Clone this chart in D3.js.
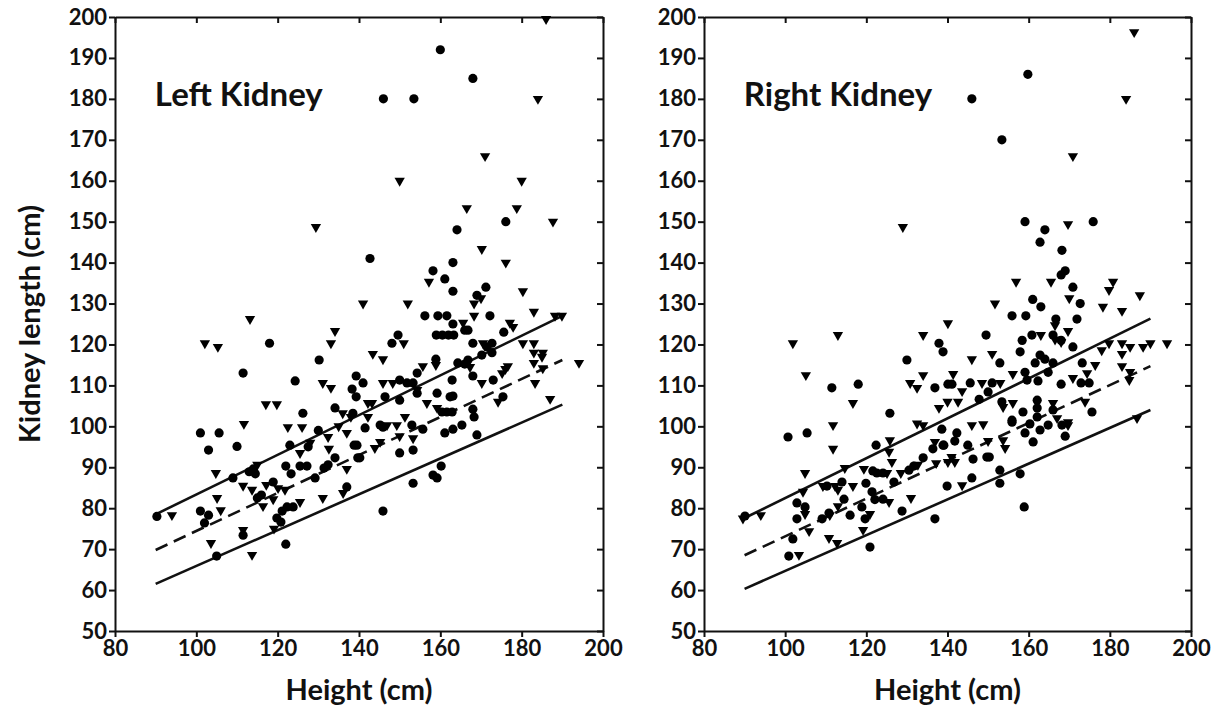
<!doctype html>
<html>
  <head>
    <script src="https://cdn.jsdelivr.net/npm/d3@7/dist/d3.min.js"></script>
    <style>
    body { margin: 0; background: #fff; }
    svg text { font-family: Lato, "Open Sans", sans-serif; font-weight: bold; fill: #111; }
    .axis path, .axis line { stroke: #111; stroke-width: 2; }
    .fit { fill: none; stroke: #111; stroke-width: 2.6; }
    </style>
  </head>
  <body>
    <svg width="1218" height="711"></svg>
    <script>
      var xTicks = [80, 100, 120, 140, 160, 180, 200];
      var yTicks = [50, 60, 70, 80, 90, 100, 110, 120, 130, 140, 150, 160, 170, 180, 190, 200];

      // regression line + band, [height, length] end points
      var leftFits = {
        upper: [[90, 78.5], [190, 127]],
        mean:  [[90, 69.8], [190, 116.2]],
        lower: [[90, 61.5], [190, 105.3]]
      };
      var rightFits = {
        upper: [[90, 77.6], [190, 126.3]],
        mean:  [[90, 68.5], [190, 114.7]],
        lower: [[90, 60.3], [190, 104]]
      };

      var leftCircles = [
        [90.3,78],[101,98.4],[105.6,98.4],[103,94.2],[110,95.1],[109,87.4],[113,88.9],[114,89.6],[114.5,88.4],
        [101,79.3],[103,78.3],[102,76.4],[105,68.3],[111.5,73.4],[115,82.5],[116,83.2],[118.9,86.4],[119.8,77.6],
        [120.8,76.6],[121.1,79.3],[122.3,80.3],[123.8,80.3],[122,71.2],[122,90.3],[123.3,88.4],[125.5,90.3],
        [127.2,90.3],[129.2,87.4],[131.4,89.8],[132.4,90.6],[134.1,92.3],[137,85.2],[138.8,95.4],[139.7,92.3],
        [123,95.4],[111.5,113],[118,120.3],[124.3,111.1],[126.2,103.2],[130.2,116.2],[134.1,104.5],[138.3,109.1],
        [139.3,112.3],[139.3,107.2],[141,110.6],[142.7,141],[146.4,107.2],[150,106.4],[150,111.3],[151.8,110.6],
        [153.3,110.6],[154.3,113],[154.3,108.1],[159.2,108.1],[163.1,107.4],[158.9,116.4],[160.4,103.5],
        [161.6,103.5],[162.9,103.5],[162.9,111.3],[164.3,115.5],[166,115.2],[166.8,116.2],[168,112.3],[168,104.2],
        [168.3,102.3],[173,111.3],[175.4,107.2],[170.2,117.4],[172.7,118],[168,120.3],[171.5,119.4],[172.7,120.3],
        [163.1,125],[166,123.5],[166.8,123.5],[175.6,123],[149.6,122.3],[148.1,120.3],[159,122.3],[160.5,122.3],
        [162,122.3],[163.3,122.3],[156.2,127],[159.4,127],[161.6,127],[172.2,127],[169,132],[163.1,133],[171.2,134],
        [161.1,136],[158.2,138],[163.1,140],[164.1,148],[176.1,150],[160,192],[168,185],[146,180],[153.5,180],
        [145.9,79.3],[153.3,86.1],[158.2,88.1],[159.2,87.4],[160.2,90.3],[150,93.5],[153.3,94.2],[140.2,92.3],
        [161.1,98.4],[163.1,99.3],[165.3,100.3],[169,97.9],[155.7,99.3],[153,100.3],[139.5,95.4],[141.5,99.6],
        [145.2,100.3],[145.9,99.8],[162.4,107.2],[138.5,103.2],[130,99],[127.5,95]
      ];
      var leftTriangles = [
        [94,78.3],[111.7,100.6],[104.8,88.6],[111.5,85.5],[115,90.6],[113.7,84.5],[105.1,82.5],[106,79.5],
        [103.6,71.5],[111.5,74.7],[113.7,68.6],[117.2,85.7],[116.4,80.5],[118.9,82.2],[120.1,84.9],[121.8,84.5],
        [119.1,75],[125.5,93.5],[125.5,81.5],[131.1,82.5],[132.4,97.4],[132.6,94.5],[137,89.6],[136.1,83.7],
        [137,98.4],[122.5,99.8],[126,99.8],[129.4,148.7],[113.2,126.2],[102.1,120.3],[105.3,119.4],[134.1,123.3],
        [133.1,120.3],[131.1,110.6],[133.1,109.4],[117.1,105.4],[119.8,105.4],[136,103.2],[138,102.3],[143.4,117.7],
        [145.9,116.4],[142.2,105.7],[143.2,105.7],[145.9,110.6],[148.3,110.6],[141,130],[152,130],[150,160],
        [156.7,105.7],[159.2,104.5],[157.2,135.3],[155.7,114.7],[158.9,115],[151,120.3],[165.6,125.3],[168.3,127],
        [168.3,130],[170,131.3],[170.2,143.3],[166.5,153.3],[178.8,153.3],[187.7,150],[180.3,133],[176.1,140],
        [183,128],[188.2,127],[189.9,127],[177.1,125.3],[177.9,124.3],[170.5,120.3],[180.3,120.3],[183,120.3],
        [183,118],[185.2,118],[185,117],[194.1,115.5],[183,115.5],[185.2,114.2],[183.3,110.6],[175.2,113],[176,114],
        [176.6,114.7],[170.2,110.6],[167.3,114.5],[174.2,106],[187,106.7],[153.3,97.1],[143.9,94.7],[145.2,96.2],
        [149.3,100.3],[150,97.6],[146.9,100.3],[142.2,102.3],[151.3,102.3],[154.3,108.9],[186,199.5],[184,180],
        [171,166],[180,160],[128,96],[135,100]
      ];

      var rightCircles = [
        [90.1,78.1],[100.7,97.4],[105.4,98.4],[102.9,81.3],[104.9,80.3],[102.9,77.4],[101.9,72.5],[100.9,68.3],
        [109.1,77.4],[110.3,85.4],[110.8,78.8],[114,86.4],[114.5,82.2],[116,78.3],[118.9,80.3],[119.7,77.4],
        [120.9,70.5],[119.9,86.1],[121.4,84],[122.1,82.1],[121.6,89.1],[122.6,88.6],[122.4,95.4],[124.1,88.6],
        [124.1,82.2],[126.8,86.4],[128.8,79.3],[130.5,89.3],[131.7,90.3],[134,92.3],[136.9,77.4],[136.4,94.5],
        [139.1,95.4],[139.9,85.4],[138.6,99.3],[111.5,109.4],[118,110.3],[125.8,103.2],[130,116.2],[137.9,120.3],
        [138.9,118.2],[136.9,109.4],[140.1,110.3],[145.6,110.6],[151,110.6],[150,108.4],[147.8,106.6],[153.4,106],
        [149.5,122.3],[152.9,115.5],[157.9,118.2],[161.6,115.5],[162.8,117.4],[164,116.4],[166,115.5],[173.2,115.5],
        [159.1,113.2],[159.6,111.3],[162.3,111.1],[164.8,113.2],[168,110.3],[172.9,110.6],[174.9,110.6],
        [162.1,106.4],[162.1,104.5],[162.1,102.3],[158.6,103.5],[155.9,101.5],[175.6,103.5],[158.4,121],
        [160.8,122.3],[166,122.3],[168,121],[170.9,119.4],[155.9,127],[159.3,127],[166.7,126.2],[171.9,126.2],
        [161,131],[163,129.2],[172.7,130],[170.9,134],[169,138],[168,137],[168.2,143],[162.8,145],[164,148],
        [159.1,150],[175.9,150],[153.4,170],[146,180],[159.8,186],[158.9,80.3],[157.9,88.4],[152.9,89.3],
        [152.9,86.1],[146,87.4],[146.3,92],[149.7,92.5],[150.3,92.5],[138.9,95.4],[141.8,96.4],[142.3,98.4],
        [145,95.4],[159.1,98.4],[161.1,96.2],[160.3,100.6],[162.8,99.1],[164.8,100.3],[168.2,100.3],[169,97.6],
        [155.9,101],[166,104],[141.1,110.3]
      ];
      var rightTriangles = [
        [89.6,77.5],[94,78.3],[104.9,88.6],[111.8,100.3],[111.8,94.5],[104.9,78.6],[104.4,84],[103.4,68.6],
        [105.9,74.4],[110.8,72.7],[112.8,71.5],[109.3,85.4],[112.3,85.4],[113,84.5],[111,78.3],[114.7,89.8],
        [113,80.5],[116.7,85.4],[119.2,74.7],[120.9,78.6],[119.4,89.6],[125.1,88.6],[125.6,81.5],[125.6,93.8],
        [125.8,96.6],[126.3,91.3],[128.5,88.6],[131,82.5],[132.7,90.6],[137.2,91],[136.9,96.2],[132.5,100.7],
        [134,100.3],[129,148.7],[101.9,120.3],[113,122.3],[134,122.3],[140.1,125.2],[105.1,112.5],[130.8,110.6],
        [132.5,109.4],[134,112.5],[116.7,105.7],[137.9,104.5],[140,106],[142.6,106],[141.4,112.8],[143.6,108.6],
        [148.5,110.6],[153,110.6],[146,116.4],[151,117.7],[156.1,112.8],[153.7,104.7],[156.1,105.7],[166,105.7],
        [173.9,106],[170.9,111.8],[174.4,113],[176.4,115],[183,114.7],[185,113.3],[184.8,111.3],[183,117.7],
        [178,118.6],[179.8,120.3],[183,120.3],[185,119.4],[188.2,119.4],[190,120.3],[194.1,120.3],[166.5,124.7],
        [169.7,123.3],[163,122.3],[166.5,121.2],[168,120.6],[178.3,129.2],[183,128.2],[170,131.3],[151.7,130],
        [156.9,135.3],[165.5,135.3],[180.8,135.3],[179.8,133.3],[187.4,132],[169.7,149.4],[170.9,166],[184,180],
        [186,196.3],[186.7,102],[167,102],[169.7,101],[143.6,85.6],[140.1,91.3],[141.8,91.3],[141,92.5],
        [153.7,96.6],[154.2,94.7],[150,96.4],[169.7,100.3],[148.8,100.5],[146,100.3]
      ];

      var panels = [
        { title: "Left Kidney", left: 115, right: 603, circles: leftCircles, triangles: leftTriangles, fits: leftFits, yTitle: true },
        { title: "Right Kidney", left: 704, right: 1191, circles: rightCircles, triangles: rightTriangles, fits: rightFits, yTitle: false }
      ];
      var plotTop = 17, plotBottom = 631;

      var svg = d3.select("svg");

      panels.forEach(p => {
        var x = d3.scaleLinear().domain([80, 200]).range([p.left, p.right]);
        var y = d3.scaleLinear().domain([50, 200]).range([plotBottom, plotTop]);
        var g = svg.append("g");

        // mirrored frame: outward ticks bottom/left, inward ticks top/right
        g.append("g").attr("class", "axis").attr("transform", `translate(0,${plotTop})`)
          .call(d3.axisTop(x).tickValues(xTicks).tickSizeInner(-6).tickSizeOuter(0).tickFormat(""));
        g.append("g").attr("class", "axis").attr("transform", `translate(${p.right},0)`)
          .call(d3.axisRight(y).tickValues(yTicks).tickSizeInner(-6).tickSizeOuter(0).tickFormat(""));

        var xAxis = g.append("g").attr("class", "axis").attr("transform", `translate(0,${plotBottom})`)
          .call(d3.axisBottom(x).tickValues(xTicks).tickSizeInner(6).tickSizeOuter(0).tickPadding(3));
        xAxis.selectAll("text").style("font-size", "22px").attr("fill", "#111");

        var yAxis = g.append("g").attr("class", "axis").attr("transform", `translate(${p.left},0)`)
          .call(d3.axisLeft(y).tickValues(yTicks).tickSizeInner(6).tickSizeOuter(0).tickPadding(2));
        yAxis.selectAll("text").style("font-size", "22px").attr("fill", "#111");

        g.selectAll(".domain").attr("stroke-width", 2.2);

        // fitted lines
        var line = d3.line().x(d => x(d[0])).y(d => y(d[1]));
        g.append("path").attr("class", "fit").attr("d", line(p.fits.upper));
        g.append("path").attr("class", "fit").attr("d", line(p.fits.lower));
        g.append("path").attr("class", "fit").attr("d", line(p.fits.mean))
          .attr("stroke-dasharray", "13,7");

        g.selectAll("circle.pt")
          .data(p.circles)
          .enter()
          .append("circle")
            .attr("class", "pt")
            .attr("cx", d => x(d[0]))
            .attr("cy", d => y(d[1]))
            .attr("r", 4.6)
            .attr("fill", "#000");

        var tri = d3.symbol().type(d3.symbolTriangle).size(46);
        g.selectAll("path.tri")
          .data(p.triangles)
          .enter()
          .append("path")
            .attr("class", "tri")
            .attr("d", tri)
            .attr("transform", d => `translate(${x(d[0])},${y(d[1])}) rotate(180)`)
            .attr("fill", "#000");

        g.append("text")
          .attr("x", x(89.8))
          .attr("y", y(178.3))
          .style("font-size", "33px")
          .text(p.title);

        g.append("text")
          .attr("x", (p.left + p.right) / 2)
          .attr("y", 700)
          .attr("text-anchor", "middle")
          .style("font-size", "29px")
          .text("Height (cm)");

        if (p.yTitle) {
          g.append("text")
            .attr("transform", `translate(40,${(plotTop + plotBottom) / 2}) rotate(-90)`)
            .attr("text-anchor", "middle")
            .style("font-size", "29px")
            .text("Kidney length (cm)");
        }
      });
    </script>
  </body>
</html>
